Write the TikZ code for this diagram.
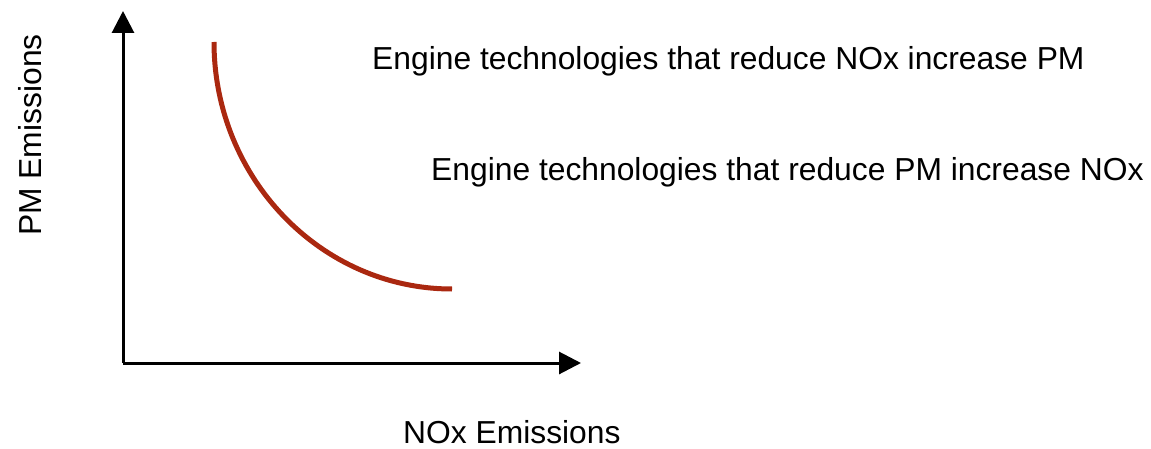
\documentclass[tikz,border=0pt]{standalone}
\usepackage{fontspec}
\setmainfont{Liberation Sans}
\usetikzlibrary{arrows.meta,positioning}
\definecolor{curvered}{RGB}{170,40,16}

\begin{document}
\begin{tikzpicture}[x=1pt,y=-1pt,
    axis/.style={line width=3pt, -{Triangle[length=22pt,width=22pt]}},
    lbl/.style={font=\fontsize{31.8}{38}\selectfont, inner sep=0pt, anchor=base west}]
    \useasboundingbox (0,0) rectangle (1151,449);

    % axes
    \coordinate (origin) at (123,363);
    \coordinate (ytip) at (123,11);
    \coordinate (xtip) at (581,363);
    \draw[axis] (origin) -- (ytip);
    \draw[axis] (origin) -- (xtip);

    % trade-off curve
    \coordinate (cstart) at (214,42);
    \coordinate (cend) at (452,289);
    \draw[curvered, line width=5pt] (cstart) .. controls (214,178) and (321,289) .. (cend);

    % labels
    \node[lbl] (noxlbl) at (372,70) {Engine technologies that reduce NOx increase PM};
    \node[lbl] (pmlbl) at (431,181) {Engine technologies that reduce PM increase NOx};
    \node[lbl] (xlbl) at (403,443) {NOx Emissions};
    \node[lbl, rotate=90] (ylbl) at (41,236) {PM Emissions};
\end{tikzpicture}
\end{document}
